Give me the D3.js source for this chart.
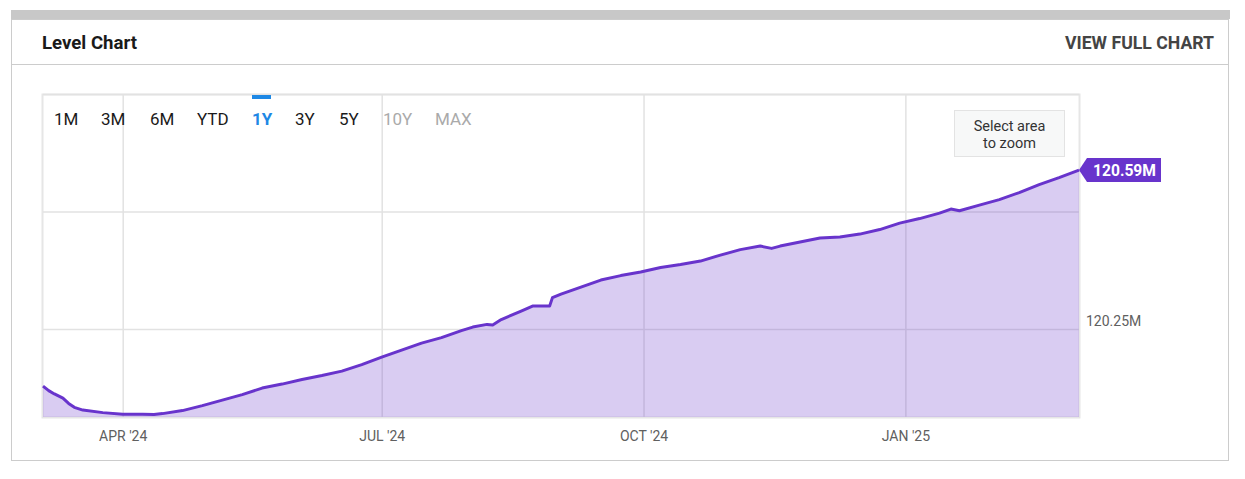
<!DOCTYPE html>
<html>
<head>
<meta charset="utf-8">
<script src="https://cdn.jsdelivr.net/npm/d3@7"></script>
<style>
  body { margin: 0; background: #fff; }
  text { font-family: Roboto, "Noto Sans", sans-serif; }
</style>
</head>
<body>
<div id="chart"></div>
<script>
var pageWidth = 1245;
var pageHeight = 479;

// weekly-ish readings of the level, in millions
var dates = ["2024-03-04", "2024-03-06", "2024-03-08", "2024-03-11", "2024-03-13", "2024-03-15",
    "2024-03-18", "2024-03-25", "2024-04-01", "2024-04-08",
    "2024-04-12", "2024-04-15", "2024-04-22", "2024-04-29", "2024-05-06", "2024-05-13", "2024-05-20",
    "2024-05-27", "2024-06-03", "2024-06-10", "2024-06-17", "2024-06-24", "2024-07-01", "2024-07-08",
    "2024-07-15", "2024-07-22", "2024-07-29", "2024-08-02", "2024-08-07", "2024-08-09", "2024-08-12",
    "2024-08-19", "2024-08-23", "2024-08-29", "2024-08-30", "2024-09-02", "2024-09-09", "2024-09-16",
    "2024-09-23", "2024-09-30", "2024-10-07", "2024-10-14", "2024-10-21", "2024-10-28", "2024-11-04",
    "2024-11-11", "2024-11-15", "2024-11-18", "2024-11-25", "2024-12-02", "2024-12-09", "2024-12-16",
    "2024-12-23", "2024-12-30", "2025-01-06", "2025-01-13", "2025-01-17", "2025-01-20", "2025-01-27",
    "2025-02-03", "2025-02-10", "2025-02-17", "2025-02-24", "2025-03-03"];
var values = [120.1287, 120.1191, 120.1120, 120.1030, 120.0919, 120.0836,
    120.0777, 120.0723, 120.0691, 120.0691,
    120.0681, 120.0702, 120.0766, 120.0872, 120.0989, 120.1106, 120.1245,
    120.1330, 120.1426, 120.1511, 120.1606, 120.1745, 120.1904, 120.2053,
    120.2202, 120.2319, 120.2468, 120.2543, 120.2600, 120.2588, 120.2702,
    120.2883, 120.2989, 120.2989, 120.3170, 120.3245, 120.3394, 120.3543,
    120.3638, 120.3713, 120.3809, 120.3872, 120.3947, 120.4074, 120.4191,
    120.4266, 120.4217, 120.4266, 120.4351, 120.4436, 120.4457, 120.4521,
    120.4617, 120.4755, 120.4851, 120.4968, 120.5053, 120.5017, 120.5138,
    120.5255, 120.5404, 120.5574, 120.5723, 120.5883];

var gridValues = [120.25, 120.5, 120.75];
var labelValues = [120.25];
var rangeButtons = ["1M", "3M", "6M", "YTD", "1Y", "3Y", "5Y", "10Y", "MAX"];
var activeButton = "1Y";
var disabledButtons = ["10Y", "MAX"];

var parseDate = d3.timeParse("%Y-%m-%d");
var levelData = dates.map((d, i) => ({date: parseDate(d), value: values[i]}));

var svg = d3.select("#chart")
    .append("svg")
    .attr("width", pageWidth)
    .attr("height", pageHeight);

// card frame
svg.append("rect")
    .attr("x", 11.5).attr("y", 19.5)
    .attr("width", 1217).attr("height", 441)
    .attr("fill", "#fff")
    .attr("stroke", "#cccccc");
svg.append("rect")
    .attr("x", 11).attr("y", 10)
    .attr("width", 1219).attr("height", 9)
    .attr("fill", "#c8c8c8");
svg.append("line")
    .attr("x1", 11).attr("x2", 1229)
    .attr("y1", 64.5).attr("y2", 64.5)
    .attr("stroke", "#cccccc");

svg.append("text")
    .attr("x", 42).attr("y", 49)
    .attr("font-size", "19px")
    .attr("font-weight", "bold")
    .attr("fill", "#1a1a1a")
    .attr("textLength", 95)
    .attr("lengthAdjust", "spacingAndGlyphs")
    .text("Level Chart");

svg.append("text")
    .attr("x", 1214).attr("y", 49)
    .attr("text-anchor", "end")
    .attr("font-size", "19px")
    .attr("font-weight", "bold")
    .attr("fill", "#444")
    .attr("textLength", 149)
    .attr("lengthAdjust", "spacingAndGlyphs")
    .text("VIEW FULL CHART");

// plot area
var plot = {left: 43, top: 95, right: 1079, bottom: 417};
var width = plot.right - plot.left;
var height = plot.bottom - plot.top;

var xScale = d3.scaleTime()
    .domain(d3.extent(levelData, d => d.date))
    .range([0, width]);

var yScale = d3.scaleLinear()
    .domain([120.063, 120.748])
    .range([height, 0]);

var canvas = svg.append("g")
    .attr("transform", "translate(" + plot.left + "," + plot.top + ")");

canvas.append("rect")
    .attr("x", -0.5).attr("y", -0.5)
    .attr("width", width + 1).attr("height", height + 1)
    .attr("fill", "none")
    .attr("stroke", "#e6e6e6")
    .attr("stroke-width", 2);

var monthTicks = d3.timeMonth.every(3).range(xScale.domain()[0], xScale.domain()[1]);

// vertical grid
canvas.append("g")
    .attr("transform", "translate(0," + height + ")")
    .call(d3.axisBottom(xScale).tickValues(monthTicks).tickSize(-height).tickFormat(""))
    .call(g => g.select(".domain").remove())
    .call(g => g.selectAll(".tick line").attr("stroke", "#e2e2e2").attr("stroke-width", 1.5));

// horizontal grid
canvas.append("g")
    .call(d3.axisLeft(yScale).tickValues(gridValues).tickSize(-width).tickFormat(""))
    .call(g => g.select(".domain").remove())
    .call(g => g.selectAll(".tick line").attr("stroke", "#e2e2e2").attr("stroke-width", 1.5));

var area = d3.area()
    .x(d => xScale(d.date))
    .y0(height)
    .y1(d => yScale(d.value));

var line = d3.line()
    .x(d => xScale(d.date))
    .y(d => yScale(d.value));

canvas.append("path")
    .datum(levelData)
    .attr("d", area)
    .attr("fill", "#6834cc")
    .attr("fill-opacity", 0.25);

canvas.append("path")
    .datum(levelData)
    .attr("d", line)
    .attr("fill", "none")
    .attr("stroke", "#6834cc")
    .attr("stroke-width", 3)
    .attr("stroke-linejoin", "round");

// x axis labels
var xAxis = d3.axisBottom(xScale)
    .tickValues(monthTicks)
    .tickSize(0)
    .tickPadding(14)
    .tickFormat(d => d3.timeFormat("%b '%y")(d).toUpperCase());

canvas.append("g")
    .attr("transform", "translate(0," + height + ")")
    .call(xAxis)
    .call(g => g.select(".domain").remove())
    .call(g => g.selectAll("text")
        .attr("font-family", "Roboto")
        .attr("font-size", "14px")
        .attr("fill", "#606060"));

// y axis labels
var yAxis = d3.axisRight(yScale)
    .tickValues(labelValues)
    .tickSize(0)
    .tickPadding(7)
    .tickFormat(d => d3.format(".2f")(d) + "M");

canvas.append("g")
    .attr("transform", "translate(" + width + ",-8)")
    .call(yAxis)
    .call(g => g.select(".domain").remove())
    .call(g => g.selectAll("text")
        .attr("font-family", "Roboto")
        .attr("font-size", "14px")
        .attr("fill", "#606060"));

// last value flag
var last = levelData[levelData.length - 1];
var lx = xScale(last.date);
var ly = yScale(last.value);
canvas.append("path")
    .attr("d", "M" + lx + "," + ly + " L" + (lx + 8) + "," + (ly - 12) + " H" + (lx + 82)
        + " V" + (ly + 12) + " H" + (lx + 8) + " Z")
    .attr("fill", "#6834cc");
canvas.append("text")
    .attr("x", lx + 14).attr("y", ly + 6)
    .attr("font-size", "16px")
    .attr("font-weight", "bold")
    .attr("fill", "#fff")
    .attr("textLength", 63)
    .attr("lengthAdjust", "spacingAndGlyphs")
    .text(d3.format(".2f")(last.value) + "M");

// range selector
var buttonX = [54, 101, 150, 197, 252, 295, 339, 383, 435];
svg.selectAll(".range-btn")
    .data(rangeButtons)
    .enter()
    .append("text")
    .attr("class", "range-btn")
    .attr("x", (d, i) => buttonX[i])
    .attr("y", 125)
    .attr("font-size", "17px")
    .attr("font-weight", d => d === activeButton ? "bold" : "normal")
    .attr("fill", d => d === activeButton ? "#1e88e5" : (disabledButtons.includes(d) ? "#aaaaaa" : "#1a1a1a"))
    .text(d => d);

svg.append("rect")
    .attr("x", 252).attr("y", 95)
    .attr("width", 19).attr("height", 4)
    .attr("fill", "#1e88e5");

// zoom hint
svg.append("rect")
    .attr("x", 954.5).attr("y", 110.5)
    .attr("width", 110).attr("height", 46)
    .attr("fill", "#f7f8f8")
    .attr("stroke", "#e3e3e3");
svg.append("text")
    .attr("x", 1009.5).attr("y", 131)
    .attr("text-anchor", "middle")
    .attr("font-size", "14.5px")
    .attr("fill", "#333")
    .text("Select area");
svg.append("text")
    .attr("x", 1009.5).attr("y", 148)
    .attr("text-anchor", "middle")
    .attr("font-size", "14.5px")
    .attr("fill", "#333")
    .text("to zoom");
</script>
</body>
</html>
